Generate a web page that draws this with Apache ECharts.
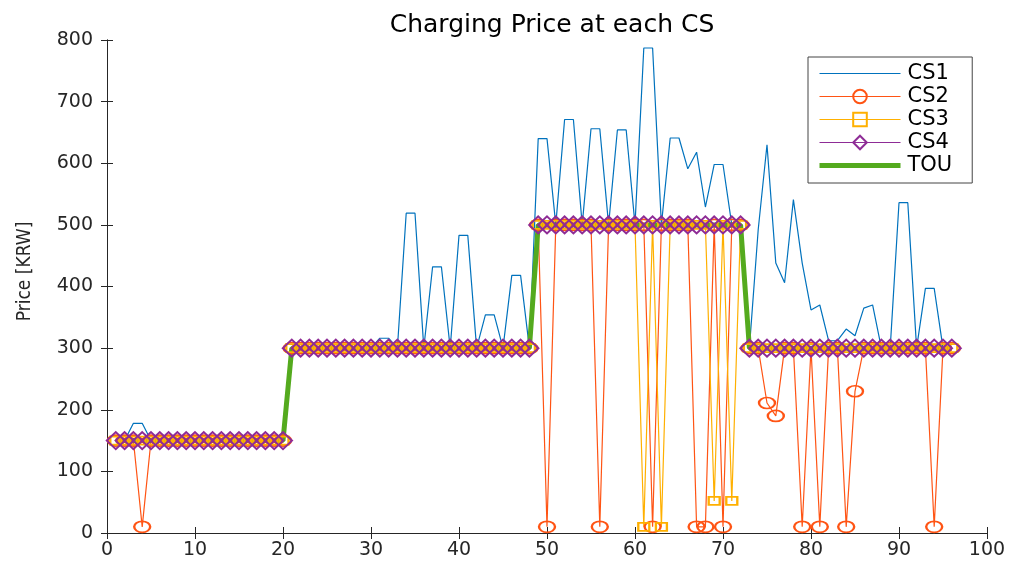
<!DOCTYPE html>
<html>
<head>
<meta charset="utf-8">
<script src="https://cdn.jsdelivr.net/npm/echarts@6/dist/echarts.min.js"></script>
<style>
  html, body { margin: 0; padding: 0; background: #fff; }
  #chartDiv { width: 1012px; height: 568px; }
</style>
</head>
<body>
<div id="chartDiv"></div>
<script>
// values, one entry per time slot (1..96)
var seriesNames = ['CS1', 'CS2', 'CS3', 'CS4', 'TOU'];

var touPrice = [
  150,150,150,150,150,150,150,150,150,150,150,150,
  150,150,150,150,150,150,150,150,300,300,300,300,
  300,300,300,300,300,300,300,300,300,300,300,300,
  300,300,300,300,300,300,300,300,300,300,300,300,
  500,500,500,500,500,500,500,500,500,500,500,500,
  500,500,500,500,500,500,500,500,500,500,500,500,
  300,300,300,300,300,300,300,300,300,300,300,300,
  300,300,300,300,300,300,300,300,300,300,300,300
];

var cs1Price = [
  150,150,178,178,150,150,150,150,150,150,150,150,
  150,150,150,150,150,150,150,150,300,300,300,300,
  300,300,300,300,300,300,316,316,300,519,519,300,
  432,432,300,483,483,300,354,354,300,418,418,300,
  640,640,500,671,671,500,656,656,500,654,654,500,
  787,787,500,641,641,591,618,529,598,598,500,500,
  300,492,630,438,406,541,438,362,370,312,312,331,
  320,365,370,300,300,536,536,300,397,397,300,300
];

var cs2Price = [
  150,150,150,10,150,150,150,150,150,150,150,150,
  150,150,150,150,150,150,150,150,300,300,300,300,
  300,300,300,300,300,300,300,300,300,300,300,300,
  300,300,300,300,300,300,300,300,300,300,300,300,
  500,10,500,500,500,500,500,10,500,500,500,500,
  500,10,500,500,500,500,10,10,500,10,500,500,
  300,300,211,190,300,300,10,300,10,300,300,10,
  230,300,300,300,300,300,300,300,300,10,300,300
];

var cs3Price = [
  150,150,150,150,150,150,150,150,150,150,150,150,
  150,150,150,150,150,150,150,150,300,300,300,300,
  300,300,300,300,300,300,300,300,300,300,300,300,
  300,300,300,300,300,300,300,300,300,300,300,300,
  500,500,500,500,500,500,500,500,500,500,500,500,
  10,500,10,500,500,500,500,500,52,500,52,500,
  300,300,300,300,300,300,300,300,300,300,300,300,
  300,300,300,300,300,300,300,300,300,300,300,300
];

var cs4Price = [
  150,150,150,150,150,150,150,150,150,150,150,150,
  150,150,150,150,150,150,150,150,300,300,300,300,
  300,300,300,300,300,300,300,300,300,300,300,300,
  300,300,300,300,300,300,300,300,300,300,300,300,
  500,500,500,500,500,500,500,500,500,500,500,500,
  500,500,500,500,500,500,500,500,500,500,500,500,
  300,300,300,300,300,300,300,300,300,300,300,300,
  300,300,300,300,300,300,300,300,300,300,300,300
];

var xTicks = [0, 10, 20, 30, 40, 50, 60, 70, 80, 90, 100];
var yTicks = [0, 100, 200, 300, 400, 500, 600, 700, 800];

// slot number -> [slot, value]
function toPairs(arr) {
  return arr.map(function (v, i) { return [i + 1, v]; });
}

var FONT = "'DejaVu Sans', sans-serif";
var AXIS_COLOR = '#262626';

var myChart = echarts.init(document.getElementById('chartDiv'), null, { renderer: 'canvas' });

function markerSeries(name, data, color, symbol, size) {
  return {
    name: name,
    type: 'line',
    data: toPairs(data),
    symbol: symbol,
    symbolSize: size,
    showAllSymbol: true,
    lineStyle: { color: color, width: 1.2 },
    itemStyle: { color: 'transparent', borderColor: color, borderWidth: 2 },
    emphasis: { disabled: true }
  };
}

// legend entries: hide the marker for the plain lines, thick line for TOU
var legendItems = [
  { name: 'CS1', itemStyle: { color: 'transparent', borderWidth: 0, opacity: 0 }, lineStyle: { width: 1.2 } },
  { name: 'CS2', lineStyle: { width: 1.2 } },
  { name: 'CS3', lineStyle: { width: 1.2 } },
  { name: 'CS4', lineStyle: { width: 1.2 } },
  { name: 'TOU', itemStyle: { color: 'transparent', borderWidth: 0, opacity: 0 }, lineStyle: { width: 5 } }
];

var option = {
  animation: false,
  backgroundColor: '#fff',
  title: {
    text: 'Charging Price at each CS',
    left: 547,
    textAlign: 'center',
    top: 8,
    textStyle: { fontFamily: FONT, fontSize: 25, fontWeight: 'normal', color: '#000' }
  },
  legend: {
    orient: 'vertical',
    left: 808,
    top: 57,
    data: legendItems,
    itemWidth: 81,
    itemHeight: 17,
    itemGap: 2,
    padding: [6, 20, 7, 9],
    borderColor: '#444',
    borderWidth: 1,
    backgroundColor: '#fff',
    textStyle: { fontFamily: FONT, fontSize: 21, color: '#000', padding: [0, 0, 0, 2] }
  },
  grid: { left: 107, right: 25, top: 40, bottom: 35 },
  xAxis: [{
    type: 'value',
    min: xTicks[0],
    max: xTicks[xTicks.length - 1],
    interval: 10,
    axisLine: { lineStyle: { color: AXIS_COLOR, width: 1 } },
    axisTick: { inside: true, length: 6, lineStyle: { color: AXIS_COLOR } },
    axisLabel: { margin: 8, fontFamily: FONT, fontSize: 19, color: AXIS_COLOR },
    splitLine: { show: false }
  }, {
    type: 'value',
    position: 'top',
    min: xTicks[0],
    max: xTicks[xTicks.length - 1],
    interval: 10,
    axisLine: { lineStyle: { color: AXIS_COLOR, width: 1 } },
    axisTick: { inside: true, length: 6, lineStyle: { color: AXIS_COLOR } },
    axisLabel: { show: false },
    splitLine: { show: false }
  }],
  yAxis: [{
    type: 'value',
    min: yTicks[0],
    max: yTicks[yTicks.length - 1],
    interval: 100,
    name: 'Price [KRW]',
    nameLocation: 'middle',
    nameGap: 72,
    nameTextStyle: {
      fontFamily: "'DejaVu Sans Condensed', 'DejaVu Sans', sans-serif",
      fontSize: 19,
      color: AXIS_COLOR,
      padding: [0, 0, 0, 30]
    },
    axisLine: { show: true, lineStyle: { color: AXIS_COLOR, width: 1 } },
    axisTick: { show: true, inside: true, length: 6, lineStyle: { color: AXIS_COLOR } },
    axisLabel: { margin: 14, fontFamily: FONT, fontSize: 19, color: AXIS_COLOR },
    splitLine: { show: false }
  }, {
    type: 'value',
    position: 'right',
    min: yTicks[0],
    max: yTicks[yTicks.length - 1],
    interval: 100,
    axisLine: { show: true, lineStyle: { color: AXIS_COLOR, width: 1 } },
    axisTick: { show: true, inside: true, length: 6, lineStyle: { color: AXIS_COLOR } },
    axisLabel: { show: false },
    splitLine: { show: false }
  }],
  series: [
    {
      name: 'CS1',
      type: 'line',
      data: toPairs(cs1Price),
      symbol: 'none',
      lineStyle: { color: '#0072BD', width: 1.2 },
      itemStyle: { color: '#0072BD' },
      emphasis: { disabled: true }
    },
    markerSeries('CS2', cs2Price, '#FF5414', 'circle', [16, 11]),
    markerSeries('CS3', cs3Price, '#FFB000', 'rect', [11, 8]),
    markerSeries('CS4', cs4Price, '#8E2C96', 'diamond', [18, 17]),
    {
      name: 'TOU',
      type: 'line',
      data: toPairs(touPrice),
      symbol: 'none',
      lineStyle: { color: '#54AA1E', width: 5 },
      itemStyle: { color: '#54AA1E' },
      emphasis: { disabled: true }
    }
  ]
};

myChart.setOption(option);
</script>
</body>
</html>
